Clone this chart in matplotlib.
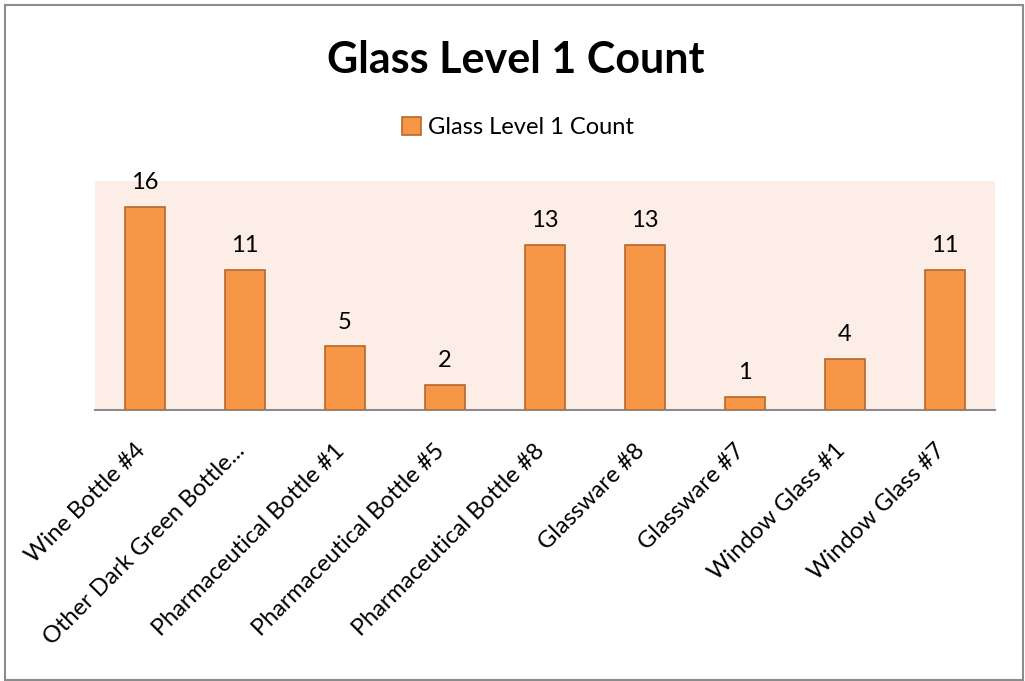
import numpy as np
import matplotlib.pyplot as plt
from matplotlib.patches import Rectangle
from matplotlib.transforms import ScaledTranslation

plt.rcParams['font.family'] = ['Lato', 'DejaVu Sans']

categories = ["Wine Bottle #4", "Other Dark Green Bottle...", "Pharmaceutical Bottle #1",
              "Pharmaceutical Bottle #5", "Pharmaceutical Bottle #8", "Glassware #8",
              "Glassware #7", "Window Glass #1", "Window Glass #7"]
counts = [16, 11, 5, 2, 13, 13, 1, 4, 11]
series_name = "Glass Level 1 Count"

fig = plt.figure(figsize=(10.25, 6.81), dpi=100)
fig.patches.append(Rectangle((0.005, 0.002), 0.993, 0.99, transform=fig.transFigure,
                             fill=False, edgecolor='#8c8c8c', linewidth=1.5))

ax = fig.add_axes([0.0927, 0.398, 0.878, 0.336])
ax.set_facecolor('#fdede7')
x = np.arange(len(categories))
bars = ax.bar(x, counts, width=0.4, color='#f79646', edgecolor='#b5682f',
              linewidth=1.2, label=series_name, zorder=3)
for xi, v in zip(x, counts):
    ax.annotate(str(v), (xi, v), xytext=(0, 10), textcoords='offset points',
                ha='center', va='bottom', fontsize=17)

ax.set_xlim(-0.5, len(categories) - 0.5)
ax.set_ylim(0, 18)
ax.set_yticks([])
ax.set_xticks(x)
ax.set_xticklabels(categories, rotation=45, ha='right', rotation_mode='anchor', fontsize=17)
ax.tick_params(axis='x', length=0, pad=8)
shift = ScaledTranslation(-0.11, -0.19, fig.dpi_scale_trans)
for lab in ax.get_xticklabels():
    lab.set_transform(lab.get_transform() + shift)
for s in ['top', 'right', 'left']:
    ax.spines[s].set_visible(False)
ax.spines['bottom'].set_color('#8c8c8c')
ax.spines['bottom'].set_linewidth(1.5)

fig.text(0.503, 0.912, "Glass Level 1 Count", ha='center', va='center',
         fontsize=31, fontweight='bold')
fig.legend(handles=[bars], labels=[series_name], loc='center', bbox_to_anchor=(0.505, 0.813),
           frameon=False, fontsize=17, handlelength=0.8, handleheight=0.8, handletextpad=0.3)

fig.savefig("out.png")
